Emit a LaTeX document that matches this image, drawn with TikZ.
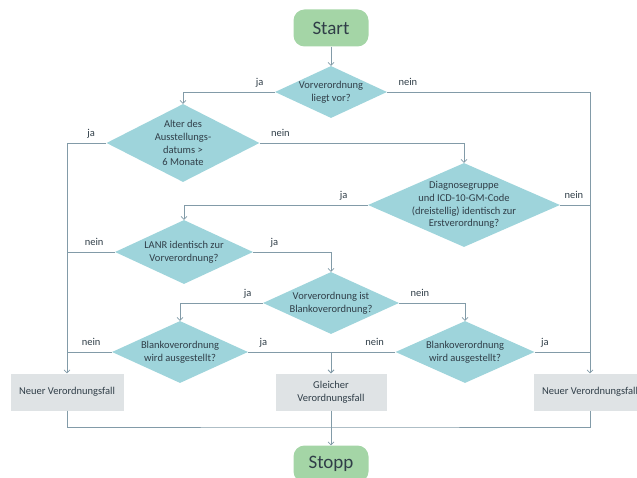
\documentclass[tikz,border=0pt]{standalone}
\usepackage{fontspec}
\setmainfont{Carlito}
\usetikzlibrary{arrows.meta}
\usetikzlibrary{shapes.geometric}
\usetikzlibrary{positioning}

\definecolor{dfill}{RGB}{158,212,219}
\definecolor{tfill}{RGB}{164,213,166}
\definecolor{bfill}{RGB}{223,227,229}
\definecolor{lcol}{RGB}{130,155,168}
\definecolor{txt}{RGB}{48,62,72}

\newcommand{\flowfont}{\fontsize{10.5}{12.8}\selectfont}

\tikzset{
  terminal/.style={rectangle, rounded corners=11pt, fill=tfill, text=txt,
    minimum width=75pt, minimum height=37pt, font=\fontsize{19}{22}\selectfont},
  decision/.style={diamond, fill=dfill, text=txt, align=center, inner sep=0pt,
    font=\flowfont},
  result/.style={rectangle, fill=bfill, text=txt, align=center,
    minimum width=113pt, minimum height=37pt, font=\flowfont},
  flow/.style={draw=lcol, line width=0.7pt},
  lbl/.style={text=txt, font=\flowfont, inner sep=0pt, text height=7pt, text depth=2pt},
  lblL/.style={lbl, above left=4pt and 11pt},
  lblR/.style={lbl, above right=4pt and 11pt}
}

\begin{document}
\begin{tikzpicture}[x=1pt, y=-1pt, >={Straight Barb[length=3pt, width=6pt]}]

    \useasboundingbox (0, 0) rectangle (637, 478);

    % Declare the nodes
    \node[terminal] at (331, 28) (start) {Start};
    \node[decision, minimum width=112pt, minimum height=52pt, aspect=2.15, inner xsep=-2pt] at (331, 92) (liegt) {Vorverordnung\\liegt vor?};
    \node[decision, minimum width=153pt, minimum height=78pt, aspect=1.96, inner xsep=-5pt] at (183, 143) (alter) {Alter des\\Ausstellungs-\\datums >\\6 Monate};
    \node[decision, minimum width=192pt, minimum height=84pt, aspect=2.29, inner xsep=-20pt] at (464, 205) (diag) {Diagnosegruppe\\und ICD-10-GM-Code\\(dreistellig) identisch zur\\Erstverordnung?};
    \node[decision, minimum width=138pt, minimum height=64pt, aspect=2.15, inner xsep=-3pt] at (184, 252) (lanr) {LANR identisch zur\\Vorverordnung?};
    \node[decision, minimum width=136pt, minimum height=62pt, aspect=2.2, inner xsep=-3pt] at (331, 303) (blanko) {Vorverordnung ist\\Blankoverordnung?};
    \node[decision, minimum width=136pt, minimum height=62pt, aspect=2.2, inner xsep=-3pt] at (180, 352) (ausstL) {Blankoverordnung\\wird ausgestellt?};
    \node[decision, minimum width=139pt, minimum height=62pt, aspect=2.2, inner xsep=-3pt] at (465, 352) (ausstR) {Blankoverordnung\\wird ausgestellt?};
    \node[result] at (67, 392) (neuL) {Neuer Verordnungsfall};
    \node[result, minimum width=111pt] at (331, 392) (gleich) {Gleicher\\Verordnungsfall};
    \node[result] at (590, 392) (neuR) {Neuer Verordnungsfall};
    \node[terminal] at (331, 464) (stopp) {Stopp};
    \coordinate (join) at (331, 427);

    % Declare edges
    \draw[flow, ->] (start) -- (liegt);
    \draw[flow, ->] (liegt.west) -| node[lblL, at start] {ja} (alter.north);
    \draw[flow, ->] (liegt.east) -| node[lblR, at start] {nein} (neuR.north);
    \draw[flow, ->] (alter.west) -| node[lblL, at start] {ja} (neuL.north);
    \draw[flow, ->] (alter.east) -| node[lblR, at start] {nein} (diag.north);
    \draw[flow, ->] (diag.west) -| node[lblL, at start, xshift=-9pt] {ja} (lanr.north);
    \draw[flow] (diag.east) -- node[lblR, at start, xshift=-7pt] {nein} (diag.east -| neuR);
    \draw[flow] (lanr.west) -- node[lblL, at start] {nein} (lanr.west -| neuL);
    \draw[flow, ->] (lanr.east) -| node[lblR, at start, xshift=6pt] {ja} (blanko.north);
    \draw[flow, ->] (blanko.west) -| node[lblL, at start] {ja} (ausstL.north);
    \draw[flow, ->] (blanko.east) -| node[lblR, at start] {nein} (ausstR.north);
    \draw[flow] (ausstL.west) -- node[lblL, at start] {nein} (ausstL.west -| neuL);
    \draw[flow, ->] (ausstL.east) -| node[lblR, at start] {ja} (gleich.north);
    \draw[flow, ->] (ausstR.west) -| node[lblL, at start] {nein} (gleich.north);
    \draw[flow] (ausstR.east) -- node[lblR, at start, xshift=-5pt] {ja} (ausstR.east -| neuR);

    % Declare final edges
    \draw[flow] (neuL.south) |- (join) -| (neuR.south);
    \draw[flow, ->] (gleich) -- (stopp);

\end{tikzpicture}
\end{document}
